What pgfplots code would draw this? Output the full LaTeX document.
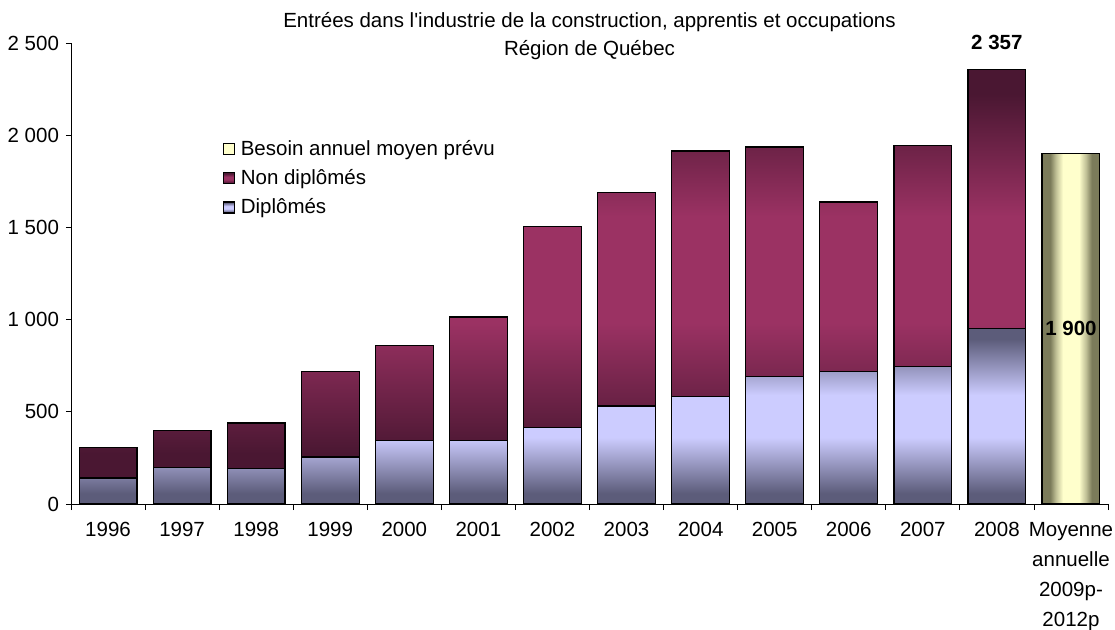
\documentclass[border=0pt]{standalone}
\usepackage{pgfplots}
\usepackage{pgfplotstable}
\pgfplotsset{compat=1.18}
\usepackage{fontspec}
\setmainfont{Liberation Sans}
\definecolor{dipdark}{HTML}{5C5C7A}
\definecolor{diplight}{HTML}{CCCCFF}
\definecolor{nddark}{HTML}{4A1732}
\definecolor{ndlight}{HTML}{9B3263}
\definecolor{ydark}{HTML}{7B7B5A}
\definecolor{ymid}{HTML}{C0C096}
\definecolor{ylight}{HTML}{FFFFCC}

\pgfdeclareverticalshading{dipshade}{100bp}{color(0bp)=(dipdark); color(28bp)=(dipdark); color(44bp)=(diplight); color(56bp)=(diplight); color(72bp)=(dipdark); color(100bp)=(dipdark)}
\pgfdeclareverticalshading{ndshade}{100bp}{color(0bp)=(nddark); color(28bp)=(nddark); color(44bp)=(ndlight); color(57bp)=(ndlight); color(72bp)=(nddark); color(100bp)=(nddark)}
\pgfdeclarehorizontalshading{yshade}{100bp}{color(0bp)=(ydark); color(32bp)=(ydark); color(37bp)=(ymid); color(43bp)=(ylight); color(57bp)=(ylight); color(63bp)=(ymid); color(68bp)=(ydark); color(100bp)=(ydark)}

\pgfplotstableread{
x dip nondip
0 141 164
1 200 199
2 191 248
3 255 462
4 345 516
5 345 669
6 417 1088
7 531 1157
8 581 1333
9 693 1243
10 717 921
11 744 1201
12 952 1405
}\maintable

\pgfplotsset{
  common/.style={width=1037pt,height=461pt,scale only axis,
    xmin=-0.5,xmax=13.5,ymin=0,ymax=2500,enlargelimits=false,
    clip=false,bar width=0.78},
  dipstyle/.style={draw=black,line width=1.2pt,shade,shading=dipshade},
  ndstyle/.style={draw=black,line width=1.2pt,shade,shading=ndshade},
  ystyle/.style={draw=black,line width=1.2pt,shade,shading=yshade},
}

\begin{document}
\begin{tikzpicture}
\fontsize{20.5}{24}\selectfont
\path[use as bounding box] (-71pt,-125pt) rectangle (1044pt,504pt);
\begin{axis}[common, ybar stacked,
  axis x line*=bottom, axis y line*=left,
  axis line style={-,line width=0.8pt},
  tick align=outside,
  tick style={black,line width=0.8pt},
  major tick length=5pt, minor tick length=6pt,
  xtick={0,...,13},
  major x tick style={draw=none},
  minor xtick={-0.5,0.5,...,13.5},
  xticklabels={1996,1997,1998,1999,2000,2001,2002,2003,2004,2005,2006,2007,2008,{Moyenne\\annuelle\\2009p-\\2012p}},
  xticklabel style={align=center,font=\fontsize{20.5}{30}\selectfont,yshift=-6pt},
  ytick={0,500,...,2500},
  yticklabel style={font=\fontsize{20.5}{24}\selectfont},
  /pgf/number format/assume math mode=true,
  /pgf/number format/1000 sep={\ },
  ]
\addplot[dipstyle] table[x=x,y=dip]{\maintable};
\addplot[ndstyle] table[x=x,y=nondip]{\maintable};
\node[font=\fontsize{20.5}{24}\selectfont] at (axis cs:6.5,2612) {Entrées dans l\textquotesingle industrie de la construction, apprentis et occupations};
\node[font=\fontsize{20.5}{24}\selectfont] at (axis cs:6.5,2460) {Région de Québec};
\node[font=\bfseries\fontsize{20.5}{24}\selectfont] at (axis cs:12,2505) {2 357};
\node[font=\bfseries\fontsize{20.5}{24}\selectfont,text=white] at (axis cs:12,1654) {1 405};
\node[font=\bfseries\fontsize{20.5}{24}\selectfont,text=white] at (axis cs:12,476) {952};
\end{axis}
\begin{axis}[common, ybar, bar shift=0pt, hide axis,
  legend image code/.code={\draw[#1,line width=1.2pt] (0pt,-5.5pt) rectangle (11pt,5.5pt);},
  legend style={draw=none,fill=none,at={(rel axis cs:0.146,0.79)},anchor=north west,
    font=\fontsize{20.5}{24}\selectfont,row sep=11pt,inner sep=0pt,
    nodes={inner xsep=6pt,inner ysep=0pt}},
  legend cell align=left,
  ]
\addplot[ystyle,forget plot] coordinates {(13,1900)};
\addlegendimage{draw=black,fill=ylight}
\addlegendentry{Besoin annuel moyen prévu}
\addlegendimage{ndstyle}
\addlegendentry{Non diplômés}
\addlegendimage{dipstyle}
\addlegendentry{Diplômés}
\node[font=\bfseries\fontsize{20.5}{24}\selectfont] at (axis cs:13,950) {1 900};
\end{axis}
\end{tikzpicture}
\end{document}
